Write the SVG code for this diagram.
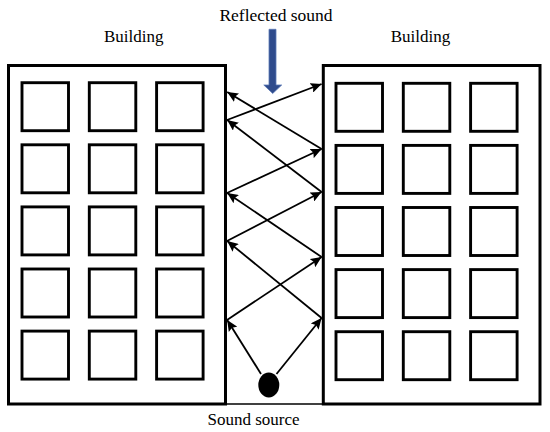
<svg xmlns="http://www.w3.org/2000/svg" width="550" height="432" viewBox="0 0 550 432">
<style>
.bld{fill:#fff;stroke:#000;stroke-width:3}
.win{fill:#fff;stroke:#000;stroke-width:2.9}
.lbl{font-family:"Liberation Serif","Times New Roman",serif;font-size:17px;fill:#000;text-anchor:middle}
.ray{stroke:#000;stroke-width:1.8;fill:none;marker-end:url(#ah)}
</style>
<defs>
<marker id="ah" markerUnits="userSpaceOnUse" markerWidth="12" markerHeight="10" refX="11" refY="5" orient="auto">
<path d="M0,0 L11,5 L0,10 L2,5 z" fill="#000"/>
</marker>
<g id="winset">
<rect class="win" x="0" y="0" width="46.5" height="48"/>
<rect class="win" x="67.3" y="0" width="46.5" height="48"/>
<rect class="win" x="134.6" y="0" width="46.5" height="48"/>
<rect class="win" x="0" y="62.1" width="46.5" height="48"/>
<rect class="win" x="67.3" y="62.1" width="46.5" height="48"/>
<rect class="win" x="134.6" y="62.1" width="46.5" height="48"/>
<rect class="win" x="0" y="124.2" width="46.5" height="48"/>
<rect class="win" x="67.3" y="124.2" width="46.5" height="48"/>
<rect class="win" x="134.6" y="124.2" width="46.5" height="48"/>
<rect class="win" x="0" y="186.3" width="46.5" height="48"/>
<rect class="win" x="67.3" y="186.3" width="46.5" height="48"/>
<rect class="win" x="134.6" y="186.3" width="46.5" height="48"/>
<rect class="win" x="0" y="248.4" width="46.5" height="48"/>
<rect class="win" x="67.3" y="248.4" width="46.5" height="48"/>
<rect class="win" x="134.6" y="248.4" width="46.5" height="48"/>
</g>
</defs>
<rect width="550" height="432" fill="#fff"/>
<line id="ground" x1="225" y1="404" x2="323.5" y2="404" stroke="#000" stroke-width="1.5"/>
<g id="building-left">
<rect class="bld" x="8.5" y="65.5" width="217" height="338.5"/>
<use href="#winset" x="22" y="82.7"/>
<text class="lbl" x="133.7" y="41.7">Building</text>
</g>
<g id="building-right">
<rect class="bld" x="323.3" y="65.5" width="216.7" height="338.5"/>
<use href="#winset" x="336" y="83.3"/>
<text class="lbl" x="420.5" y="41.7">Building</text>
</g>
<g id="reflected-sound">
<text class="lbl" x="276" y="20.7" style="font-size:17.5px">Reflected sound</text>
<polygon points="269,29.3 276,29.3 276,85 281.7,85 272.7,93.5 263.8,85 269,85" fill="#2F4B8C" stroke="#5B79B6" stroke-width="0.8"/>
</g>
<g id="sound-source">
<ellipse cx="268.8" cy="385" rx="10.5" ry="12.4" fill="#000"/>
<text class="lbl" x="253.5" y="424.5">Sound source</text>
</g>
<g id="connectors">
<line class="ray" x1="261" y1="374" x2="227.2" y2="320"/>
<line class="ray" x1="227" y1="320" x2="321.6" y2="257"/>
<line class="ray" x1="321.6" y1="257" x2="227.2" y2="193"/>
<line class="ray" x1="227" y1="193" x2="321.6" y2="149"/>
<line class="ray" x1="321.6" y1="149" x2="227.2" y2="92"/>
<line class="ray" x1="276.5" y1="374" x2="321.6" y2="318"/>
<line class="ray" x1="321.6" y1="318" x2="227.2" y2="241"/>
<line class="ray" x1="227" y1="241" x2="321.6" y2="192"/>
<line class="ray" x1="321.6" y1="192" x2="227.2" y2="120"/>
<line class="ray" x1="227" y1="120" x2="321.6" y2="84"/>
</g>
</svg>
